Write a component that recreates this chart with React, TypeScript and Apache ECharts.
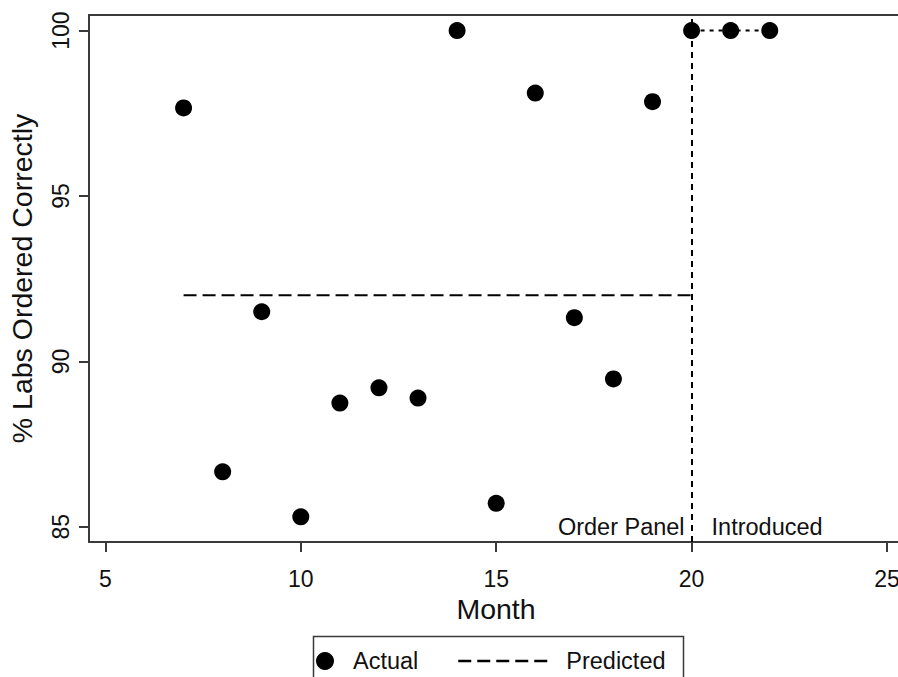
import React, { useEffect, useRef } from "react";
import * as echarts from "echarts";

// ---- data ----
const months = [7, 8, 9, 10, 11, 12, 13, 14, 15, 16, 17, 18, 19, 20, 21, 22];
const actual = [97.66, 86.66, 91.5, 85.3, 88.74, 89.2, 88.89, 100, 85.71, 98.11, 91.32, 89.47, 97.85, 100, 100, 100];
const predictedPreMonths = [7, 20];
const predictedPreValues = [92, 92];
const predictedPostMonths = [20, 21, 22];
const predictedPostValues = [100, 100, 100];
const interventionMonth = 20;
const xTicks = [5, 10, 15, 20, 25];
const yTicks = [85, 90, 95, 100];
const annotationLabels = ["Order Panel", "Introduced"];
const annotationValue = 85;

const FONT = "'Liberation Sans', Arial, Helvetica, sans-serif";
const AXIS_COLOR = "#3a3a3a";
const TEXT_COLOR = "#111";
const X_MIN = 4.58;
const X_MAX = 25.41;

export default function App() {
  const ref = useRef<HTMLDivElement>(null);

  useEffect(() => {
    if (!ref.current) return;
    const chart = echarts.init(ref.current, undefined, { renderer: "svg" });

    const zip = (xs: number[], ys: number[]) => xs.map((x, i) => [x, ys[i]]);
    const annotLabel = { fontSize: 23.5, color: TEXT_COLOR, fontFamily: FONT, opacity: 1 };

    chart.setOption({
      animation: false,
      backgroundColor: "#fff",
      textStyle: { fontFamily: FONT },
      grid: {
        left: 89,
        top: 15,
        right: 27,
        bottom: 135,
        show: false,
        containLabel: false,
        outerBoundsMode: "none",
      },
      xAxis: [
        {
          type: "value",
          min: X_MIN,
          max: X_MAX,
          name: "Month",
          nameLocation: "middle",
          nameGap: 41,
          nameTextStyle: { fontSize: 28.5, color: TEXT_COLOR, fontFamily: FONT },
          axisLine: { show: true, onZero: false, lineStyle: { color: AXIS_COLOR, width: 2 } },
          axisTick: { show: true, length: 10, customValues: xTicks, lineStyle: { color: AXIS_COLOR, width: 2 } },
          axisLabel: { customValues: xTicks, fontSize: 23, color: TEXT_COLOR, margin: 25, fontFamily: FONT, hideOverlap: false },
          splitLine: { show: false },
        },
        {
          type: "value",
          position: "top",
          min: X_MIN,
          max: X_MAX,
          axisLine: { show: true, onZero: false, lineStyle: { color: AXIS_COLOR, width: 2 } },
          axisTick: { show: false },
          axisLabel: { show: false },
          splitLine: { show: false },
        },
      ],
      yAxis: {
        type: "value",
        min: 84.54,
        max: 100.47,
        name: "% Labs Ordered Correctly",
        nameLocation: "middle",
        nameGap: 53,
        nameTextStyle: { fontSize: 28.5, color: TEXT_COLOR, fontFamily: FONT },
        axisLine: { show: true, onZero: false, lineStyle: { color: AXIS_COLOR, width: 2 } },
        axisTick: { show: true, length: 10, customValues: yTicks, lineStyle: { color: AXIS_COLOR, width: 2 } },
        axisLabel: { customValues: yTicks, rotate: 90, fontSize: 23, color: TEXT_COLOR, margin: 17, fontFamily: FONT },
        splitLine: { show: false },
      },
      legend: [
        {
          data: ["Actual"],
          left: 316,
          top: 649,
          padding: 0,
          itemWidth: 18,
          itemHeight: 18,
          selectedMode: false,
          textStyle: { fontSize: 23.5, color: TEXT_COLOR, fontFamily: FONT, padding: [0, 0, 0, 14] },
        },
        {
          data: ["Predicted"],
          left: 457,
          top: 649,
          padding: 0,
          itemWidth: 93,
          itemHeight: 18,
          selectedMode: false,
          itemStyle: { opacity: 0 },
          lineStyle: { width: 2.5, color: "#000" },
          textStyle: { fontSize: 23.5, color: TEXT_COLOR, fontFamily: FONT, padding: [0, 0, 0, 10] },
        },
      ],
      graphic: [
        {
          type: "rect",
          left: 311,
          top: 634,
          shape: { width: 370, height: 60 },
          style: { fill: "none", stroke: AXIS_COLOR, lineWidth: 1.5 },
          silent: true,
        },
      ],
      series: [
        {
          name: "Predicted",
          type: "line",
          data: zip(predictedPreMonths, predictedPreValues),
          symbol: "none",
          lineStyle: { color: "#000", width: 2, type: [13, 6] },
          itemStyle: { color: "#000" },
          silent: true,
          z: 2,
          markLine: {
            silent: true,
            symbol: "none",
            label: { show: false },
            lineStyle: { color: "#000", width: 2, type: [6, 5] },
            data: [{ xAxis: interventionMonth }],
          },
        },
        {
          name: "Predicted",
          type: "line",
          data: zip(predictedPostMonths, predictedPostValues),
          symbol: "none",
          lineStyle: { color: "#000", width: 2, type: [4, 5] },
          itemStyle: { color: "#000" },
          silent: true,
          z: 2,
        },
        {
          name: "Actual",
          type: "scatter",
          data: zip(months, actual),
          symbol: "circle",
          symbolSize: 17,
          itemStyle: { color: "#000", opacity: 1 },
          silent: true,
          z: 5,
        },
        {
          name: "annotation",
          type: "scatter",
          symbolSize: 0,
          silent: true,
          z: 6,
          itemStyle: { color: "#000", opacity: 1 },
          data: [
            {
              value: [interventionMonth, annotationValue],
              label: { show: true, position: "left", distance: 7, formatter: annotationLabels[0], ...annotLabel },
            },
            {
              value: [interventionMonth, annotationValue],
              label: { show: true, position: "right", distance: 20, formatter: annotationLabels[1], ...annotLabel },
            },
          ],
          label: annotLabel,
        },
      ],
    });

    return () => chart.dispose();
  }, []);

  return (
    <div
      style={{ position: "fixed", left: 0, top: 0, width: 898, height: 677, overflow: "hidden", background: "#fff" }}
    >
      <div ref={ref} style={{ width: 930, height: 677 }} />
    </div>
  );
}
